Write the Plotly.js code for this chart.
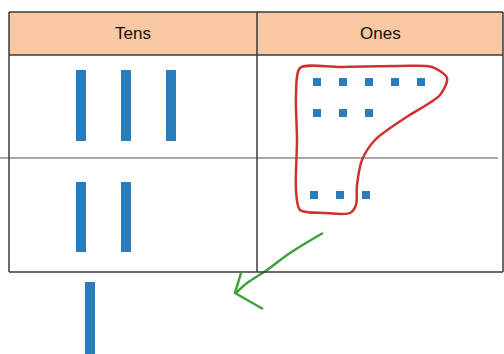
<!DOCTYPE html>
<html><head><meta charset="utf-8">
<script src="https://cdn.plot.ly/plotly-3.0.1.min.js"></script>
<style>html,body{margin:0;padding:0;background:#fff}#c{width:504px;height:354px}</style>
</head><body><div id="c"></div>
<script>
// ---- data ----
const columns = ["Tens", "Ones"];
const tensCounts = [3, 2];      // rods in row 1, row 2
const onesCounts = [8, 3];      // unit cubes in row 1, row 2
const regroupedTens = [1];      // rod carried out below the chart

// ---- layout constants (pixel-like axis units) ----
const W = 504, H = 354;
const tableL = 9, tableR = 503, tableT = 12, headB = 55, rowB = 158, tableB = 272, midX = 257;
const rodX0 = 81, rodDX = 45, rodW = 10;
const rodRows = [[70, 141], [182, 252]];
const dotX0 = 317, dotDX = 26, dotsPerLine = 5;
const dotRowY = [[82, 113], [195]];

const traces = [];
// tens rods
let rx = [], ry = [];
tensCounts.forEach((n, r) => {
  for (let i = 0; i < n; i++) {
    const x = rodX0 + i * rodDX;
    rx.push(x, x, null); ry.push(rodRows[r][0], rodRows[r][1], null);
  }
});
regroupedTens.forEach((n) => {
  for (let i = 0; i < n; i++) { rx.push(90, 90, null); ry.push(282, 356, null); }
});
traces.push({x: rx, y: ry, mode: 'lines', line: {color: '#2a7dbd', width: rodW}, hoverinfo: 'skip'});

// ones cubes
let dx = [], dy = [];
onesCounts.forEach((n, r) => {
  for (let i = 0; i < n; i++) {
    const line = Math.floor(i / dotsPerLine), k = i % dotsPerLine;
    dx.push(dotX0 + k * dotDX - (r === 1 ? 3 : 0)); dy.push(dotRowY[r][line]);
  }
});
traces.push({x: dx, y: dy, mode: 'markers', marker: {symbol: 'square', size: 8, color: '#2a7dbd'}, hoverinfo: 'skip'});

// red loop around ten ones
const loopX = [300, 340, 400, 432, 447, 440, 405, 375, 362, 357, 356, 350, 325, 300, 296, 297, 296, 300];
const loopY = [68, 67, 66, 67, 78, 95, 118, 140, 160, 185, 205, 213, 213, 210, 190, 140, 95, 68];
traces.push({x: loopX, y: loopY, mode: 'lines', line: {color: '#d0302f', width: 2.5, shape: 'spline', smoothing: 0.8}, hoverinfo: 'skip'});

// green arrow
const arrX = [323, 290, 267, 247, 236];
const arrY = [233, 253, 270, 283, 293];
traces.push({x: arrX, y: arrY, mode: 'lines', line: {color: '#3ea23a', width: 2.5, shape: 'spline'}, hoverinfo: 'skip'});
traces.push({x: [241, 235, 263], y: [273, 293, 309], mode: 'lines', line: {color: '#3ea23a', width: 2.5}, hoverinfo: 'skip'});

const ln = {color: '#3a3a3a', width: 1.5};
const shapes = [
  {type: 'rect', x0: tableL, x1: tableR, y0: tableT, y1: headB, fillcolor: '#f8c8a2', line: {width: 0}, layer: 'below'},
  {type: 'line', x0: tableL, x1: tableR, y0: tableT, y1: tableT, line: ln},
  {type: 'line', x0: tableL, x1: tableR, y0: headB, y1: headB, line: ln},
  {type: 'line', x0: 0, x1: 498, y0: rowB, y1: rowB, line: {color: '#555', width: 1.2}},
  {type: 'line', x0: tableL, x1: tableR, y0: tableB, y1: tableB, line: ln},
  {type: 'line', x0: tableL, x1: tableL, y0: tableT, y1: tableB, line: ln},
  {type: 'line', x0: tableR, x1: tableR, y0: tableT, y1: tableB, line: ln},
  {type: 'line', x0: midX, x1: midX, y0: tableT, y1: tableB, line: ln}
];
const annotations = columns.map((c, i) => ({
  x: i === 0 ? (tableL + midX) / 2 : (midX + tableR) / 2, y: (tableT + headB) / 2,
  text: c, showarrow: false, font: {family: 'Liberation Sans, Arial', size: 17, color: '#111', weight: 500}
}));

Plotly.newPlot('c', traces, {
  width: W, height: H, margin: {l: 0, r: 0, t: 0, b: 0},
  paper_bgcolor: '#fff', plot_bgcolor: '#fff', showlegend: false,
  xaxis: {range: [0, W], visible: false, fixedrange: true},
  yaxis: {range: [H, 0], visible: false, fixedrange: true},
  shapes, annotations
}, {staticPlot: true});
</script></body></html>
